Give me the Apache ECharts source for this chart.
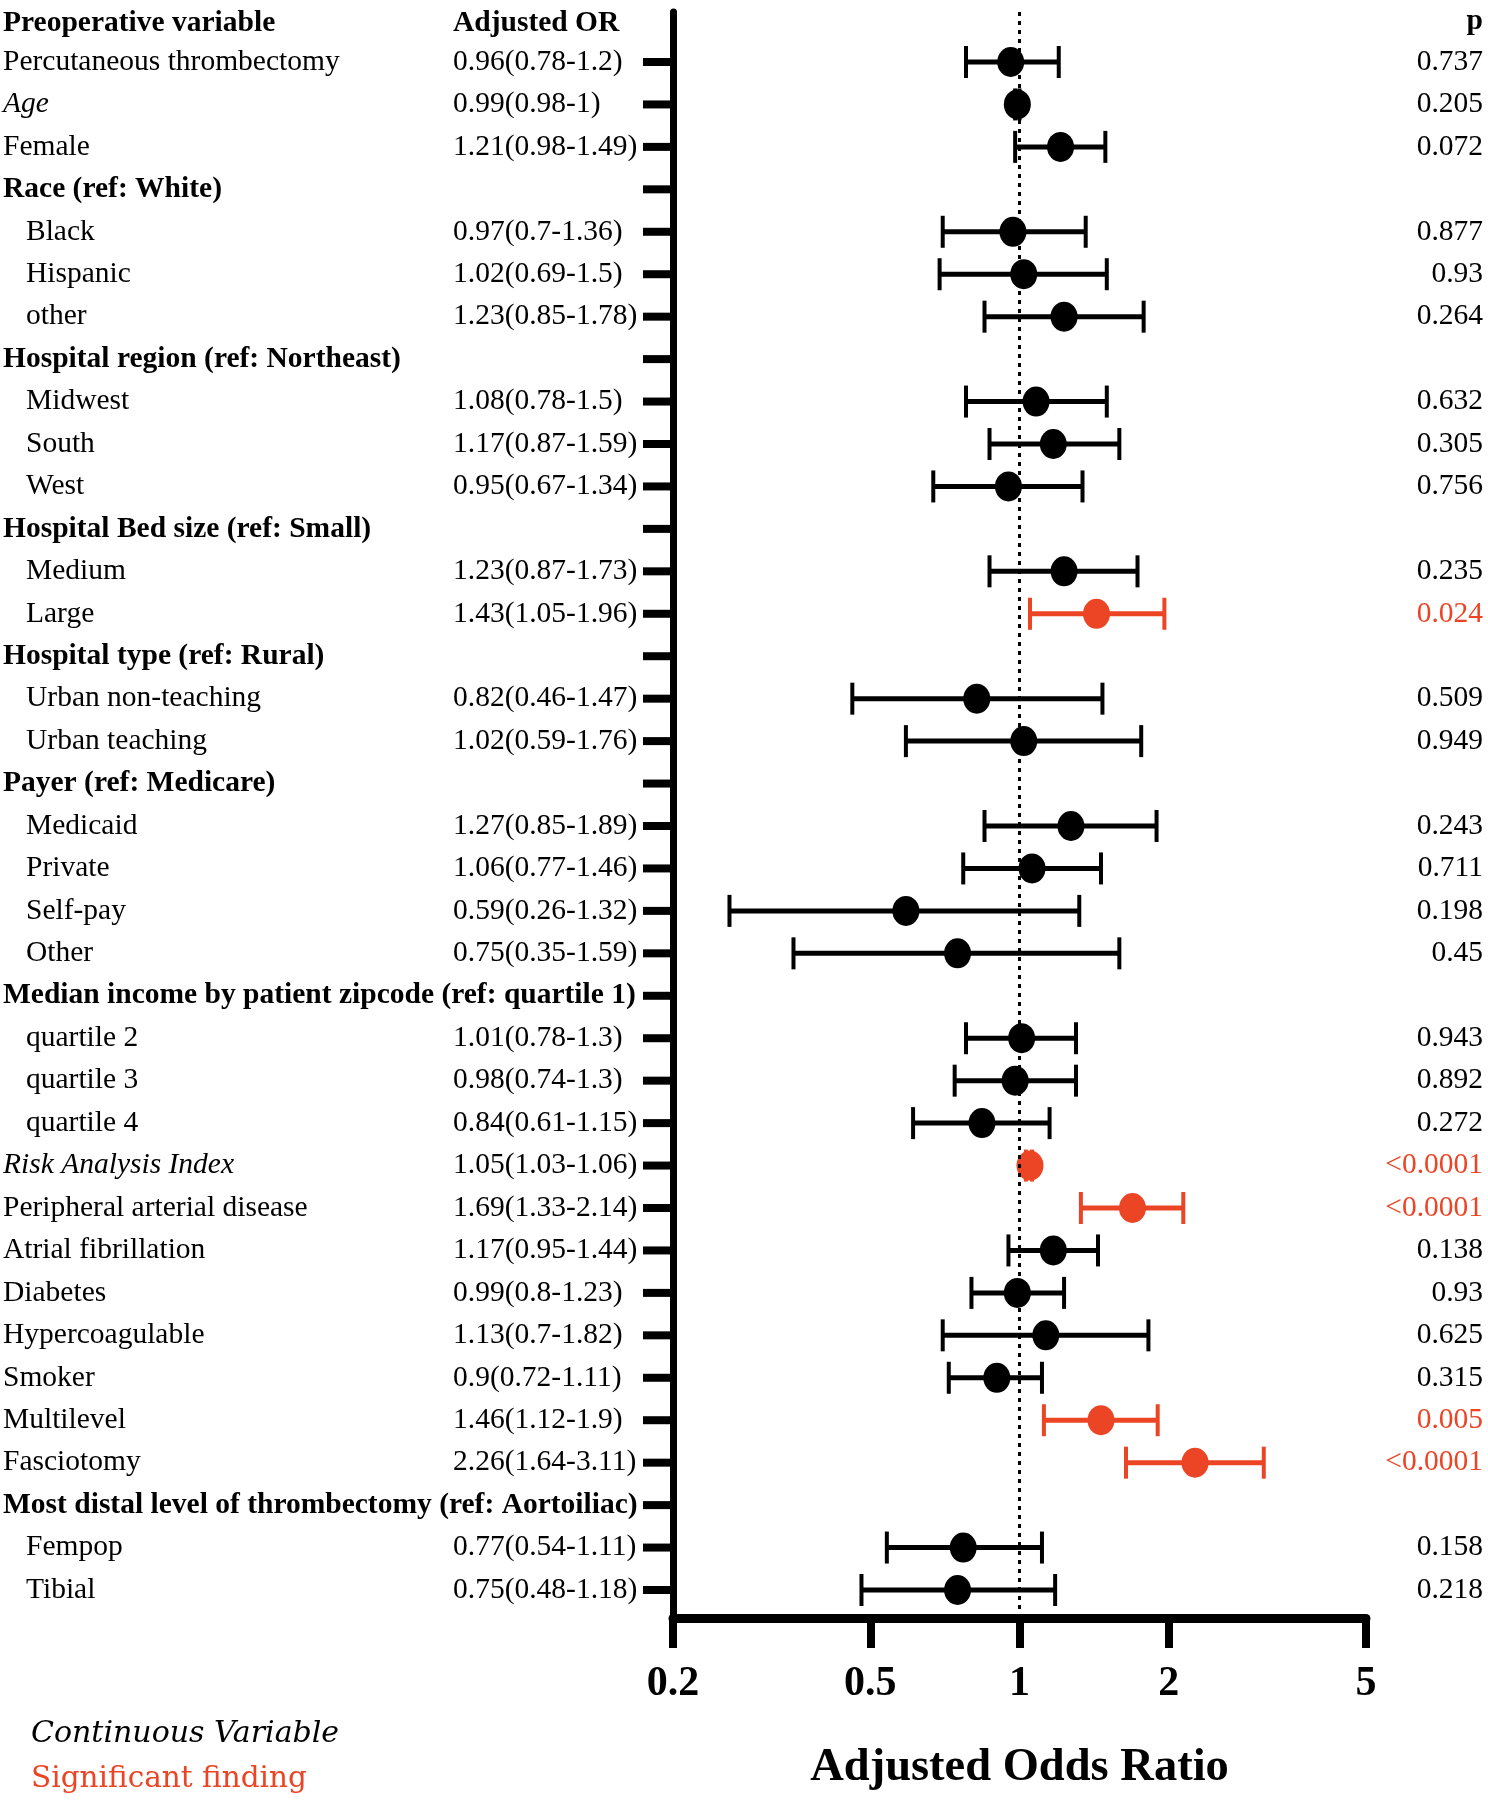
<!DOCTYPE html>
<html><head><meta charset="utf-8">
<script src="https://cdn.jsdelivr.net/npm/echarts@6/dist/echarts.min.js"></script>
<style>html,body{margin:0;padding:0;background:#fff}#chart{width:1488px;height:1800px}</style>
</head><body><div id="chart"></div>
<script>
// ---------------- data ----------------
const rowLabels = [
  'Percutaneous thrombectomy', 'Age', 'Female',
  'Race (ref: White)', 'Black', 'Hispanic', 'other',
  'Hospital region (ref: Northeast)', 'Midwest', 'South', 'West',
  'Hospital Bed size (ref: Small)', 'Medium', 'Large',
  'Hospital type (ref: Rural)', 'Urban non-teaching', 'Urban teaching',
  'Payer (ref: Medicare)', 'Medicaid', 'Private', 'Self-pay', 'Other',
  'Median income by patient zipcode (ref: quartile 1)', 'quartile 2', 'quartile 3', 'quartile 4',
  'Risk Analysis Index', 'Peripheral arterial disease', 'Atrial fibrillation', 'Diabetes',
  'Hypercoagulable', 'Smoker', 'Multilevel', 'Fasciotomy',
  'Most distal level of thrombectomy (ref: Aortoiliac)', 'Fempop', 'Tibial'
];
// var = binary variable, cont = continuous variable, ref = reference-group header, level = level of a grouped variable
const rowTypes = [
  'var', 'cont', 'var',
  'ref', 'level', 'level', 'level',
  'ref', 'level', 'level', 'level',
  'ref', 'level', 'level',
  'ref', 'level', 'level',
  'ref', 'level', 'level', 'level', 'level',
  'ref', 'level', 'level', 'level',
  'cont', 'var', 'var', 'var',
  'var', 'var', 'var', 'var',
  'ref', 'level', 'level'
];
const oddsRatio = [
  0.96, 0.99, 1.21,
  null, 0.97, 1.02, 1.23,
  null, 1.08, 1.17, 0.95,
  null, 1.23, 1.43,
  null, 0.82, 1.02,
  null, 1.27, 1.06, 0.59, 0.75,
  null, 1.01, 0.98, 0.84,
  1.05, 1.69, 1.17, 0.99,
  1.13, 0.9, 1.46, 2.26,
  null, 0.77, 0.75
];
const ciLow = [
  0.78, 0.98, 0.98,
  null, 0.7, 0.69, 0.85,
  null, 0.78, 0.87, 0.67,
  null, 0.87, 1.05,
  null, 0.46, 0.59,
  null, 0.85, 0.77, 0.26, 0.35,
  null, 0.78, 0.74, 0.61,
  1.03, 1.33, 0.95, 0.8,
  0.7, 0.72, 1.12, 1.64,
  null, 0.54, 0.48
];
const ciHigh = [
  1.2, 1, 1.49,
  null, 1.36, 1.5, 1.78,
  null, 1.5, 1.59, 1.34,
  null, 1.73, 1.96,
  null, 1.47, 1.76,
  null, 1.89, 1.46, 1.32, 1.59,
  null, 1.3, 1.3, 1.15,
  1.06, 2.14, 1.44, 1.23,
  1.82, 1.11, 1.9, 3.11,
  null, 1.11, 1.18
];
const pValues = [
  '0.737', '0.205', '0.072',
  '', '0.877', '0.93', '0.264',
  '', '0.632', '0.305', '0.756',
  '', '0.235', '0.024',
  '', '0.509', '0.949',
  '', '0.243', '0.711', '0.198', '0.45',
  '', '0.943', '0.892', '0.272',
  '<0.0001', '<0.0001', '0.138', '0.93',
  '0.625', '0.315', '0.005', '<0.0001',
  '', '0.158', '0.218'
];
const xTicks = [0.2, 0.5, 1, 2, 5];
const columnHeaders = ['Preoperative variable', 'Adjusted OR', 'p'];
const axisTitle = 'Adjusted Odds Ratio';
const legendTexts = ['Continuous Variable', 'Significant finding'];

// ---------------- helpers / layout ----------------
const RED = '#EC4526';
const BLACK = '#000000';
const SERIF = '"Liberation Serif", "Times New Roman", serif';
const FS = 29.5;
const isSig = p => p !== '' && (p.charAt(0) === '<' || parseFloat(p) < 0.05);
const orText = i => oddsRatio[i] == null ? '' : `${oddsRatio[i]}(${ciLow[i]}-${ciHigh[i]})`;

const n = rowLabels.length;
const gridTop = 12, gridBottomY = 1618, gridLeft = 673, gridRightX = 1366;
const firstRowY = 62, lastRowY = 1590;
const rowStep = (lastRowY - firstRowY) / (n - 1);
const yMin = -(firstRowY - gridTop) / rowStep;
const yMax = (n - 1) + (gridBottomY - lastRowY) / rowStep;

const furnitureData = rowLabels.map((_, i) => [xTicks[0], i]);
const barData = [];
const dotData = [];
for (let i = 0; i < n; i++) {
  if (oddsRatio[i] == null) continue;
  barData.push([ciLow[i], ciHigh[i], oddsRatio[i], i]);
  dotData.push({ value: [oddsRatio[i], i], itemStyle: { color: isSig(pValues[i]) ? RED : BLACK, opacity: 1 } });
}

const chart = echarts.init(document.getElementById('chart'), null, { renderer: 'canvas' });

const option = {
  backgroundColor: '#ffffff',
  animation: false,
  grid: { left: gridLeft, right: 1488 - gridRightX, top: gridTop, bottom: 1800 - gridBottomY, containLabel: false },
  xAxis: {
    type: 'log', logBase: 10, min: xTicks[0], max: xTicks[xTicks.length - 1],
    axisLine: { show: true, onZero: false, lineStyle: { color: BLACK, width: 9 } },
    axisTick: { show: true, customValues: xTicks, length: 30, lineStyle: { color: BLACK, width: 8 } },
    axisLabel: {
      show: true, customValues: xTicks, margin: 45,
      formatter: v => String(+(+v).toPrecision(6)),
      fontFamily: SERIF, fontWeight: 'bold', fontSize: 42, color: BLACK
    },
    splitLine: { show: false }, minorTick: { show: false }, minorSplitLine: { show: false },
    name: axisTitle, nameLocation: 'middle', nameGap: 126,
    nameTextStyle: { fontFamily: SERIF, fontWeight: 'bold', fontSize: 46.5, color: BLACK }
  },
  yAxis: {
    type: 'value', inverse: true, min: yMin, max: yMax,
    axisLine: { show: true, onZero: false, lineStyle: { color: BLACK, width: 7 } },
    axisTick: { show: false }, axisLabel: { show: false }, splitLine: { show: false }
  },
  graphic: [
    { type: 'text', left: 3, top: 8, style: { text: columnHeaders[0], fontFamily: SERIF, fontWeight: 'bold', fontSize: FS, fill: BLACK } },
    { type: 'text', left: 453, top: 8, style: { text: columnHeaders[1], fontFamily: SERIF, fontWeight: 'bold', fontSize: FS, fill: BLACK } },
    { type: 'text', right: 5, top: 6, style: { text: columnHeaders[2], fontFamily: SERIF, fontWeight: 'bold', fontSize: FS, fill: BLACK } },
    { type: 'text', left: 31, top: 1719, style: { text: legendTexts[0], fontFamily: '"DejaVu Serif", serif', fontStyle: 'italic', fontSize: 30, fill: BLACK } },
    { type: 'text', left: 31, top: 1764, style: { text: legendTexts[1], fontFamily: '"DejaVu Serif", serif', fontSize: 29.5, fill: RED } }
  ],
  series: [
    {
      name: 'rows', type: 'custom', clip: false, z: 1, silent: true,
      encode: { x: 0, y: 1 },
      data: furnitureData,
      renderItem: (params, api) => {
        const i = api.value(1);
        const pt = api.coord([api.value(0), i]);
        const ax = pt[0], y = pt[1];
        const type = rowTypes[i];
        const children = [];
        children.push({ type: 'rect', shape: { x: ax - 30, y: y - 4, width: 30, height: 8 }, style: { fill: BLACK } });
        children.push({
          type: 'text', x: type === 'level' ? 26 : 3, y: y,
          style: {
            text: rowLabels[i], fontFamily: SERIF, fontSize: FS, fill: BLACK,
            fontWeight: type === 'ref' ? 'bold' : 'normal',
            fontStyle: type === 'cont' ? 'italic' : 'normal',
            verticalAlign: 'middle', align: 'left'
          }
        });
        if (oddsRatio[i] != null) {
          children.push({
            type: 'text', x: 453, y: y,
            style: { text: orText(i), fontFamily: SERIF, fontSize: FS, fill: BLACK, verticalAlign: 'middle', align: 'left' }
          });
        }
        if (pValues[i] !== '') {
          children.push({
            type: 'text', x: 1483, y: y,
            style: { text: pValues[i], fontFamily: SERIF, fontSize: FS, fill: isSig(pValues[i]) ? RED : BLACK, verticalAlign: 'middle', align: 'right' }
          });
        }
        return { type: 'group', children };
      },
      markLine: {
        silent: true, symbol: ['none', 'none'], label: { show: false },
        lineStyle: { color: BLACK, width: 3, type: [4, 5] },
        data: [{ xAxis: 1 }]
      }
    },
    {
      name: 'ci', type: 'custom', clip: false, z: 3, silent: true,
      encode: { x: [0, 1, 2], y: 3 },
      data: barData,
      renderItem: (params, api) => {
        const i = api.value(3);
        const l = api.coord([api.value(0), i]);
        const h = api.coord([api.value(1), i]);
        const c = isSig(pValues[i]) ? RED : BLACK;
        const y = l[1];
        return {
          type: 'group', children: [
            { type: 'line', shape: { x1: l[0], y1: y, x2: h[0], y2: y }, style: { stroke: c, lineWidth: 5 } },
            { type: 'line', shape: { x1: l[0], y1: y - 16, x2: l[0], y2: y + 16 }, style: { stroke: c, lineWidth: 4 } },
            { type: 'line', shape: { x1: h[0], y1: y - 16, x2: h[0], y2: y + 16 }, style: { stroke: c, lineWidth: 4 } }
          ]
        };
      }
    },
    {
      name: 'or', type: 'scatter', z: 4, silent: true,
      symbol: 'circle', symbolSize: [27, 30],
      itemStyle: { opacity: 1 },
      data: dotData
    }
  ]
};
chart.setOption(option);
</script>
</body></html>
